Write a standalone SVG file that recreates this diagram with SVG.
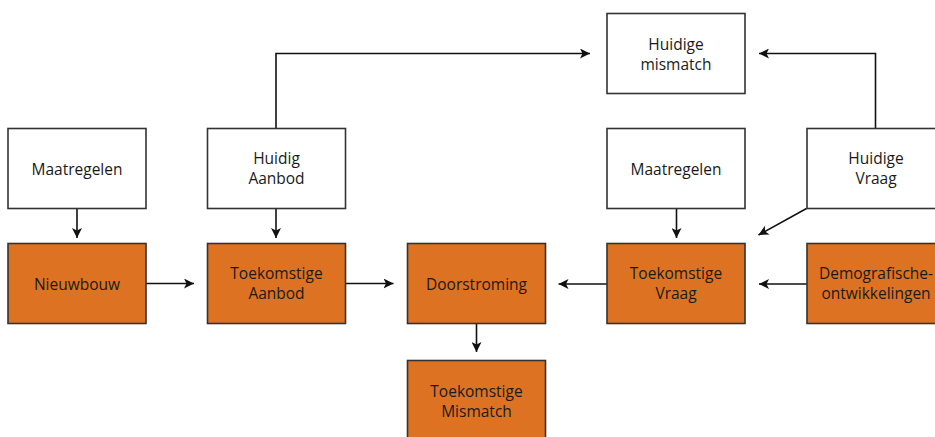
<svg xmlns="http://www.w3.org/2000/svg" width="935" height="437" viewBox="0 0 935 437">
<defs>
<style>
.box{stroke:#333;stroke-width:1.6}
.w{fill:#fff}
.o{fill:#dd7222}
text{font-family:"Open Sans","Noto Sans",sans-serif;font-size:15.5px;fill:#1a1a1a;text-anchor:middle}
.c{fill:none;stroke:#111;stroke-width:1.6}
</style>
<marker id="ah" viewBox="0 0 10 10" refX="10" refY="5" markerWidth="10" markerHeight="10" markerUnits="userSpaceOnUse" orient="auto">
<path d="M0,0 L10,5 L0,10 L2.5,5 Z" fill="#111"/>
</marker>
</defs>
<g id="connectors">
<path class="c" d="M77,208.5 V238" marker-end="url(#ah)"/>
<path class="c" d="M276,208.5 V238" marker-end="url(#ah)"/>
<path class="c" d="M676.5,208.5 V238" marker-end="url(#ah)"/>
<path class="c" d="M146,283.5 H194" marker-end="url(#ah)"/>
<path class="c" d="M345,283.5 H393.5" marker-end="url(#ah)"/>
<path class="c" d="M607,284 H558.5" marker-end="url(#ah)"/>
<path class="c" d="M807,284 H759" marker-end="url(#ah)"/>
<path class="c" d="M476.5,324 V352" marker-end="url(#ah)"/>
<path class="c" d="M276,128.5 V53.5 H590" marker-end="url(#ah)"/>
<path class="c" d="M875.5,128.5 V53.5 H759" marker-end="url(#ah)"/>
<path class="c" d="M806.5,208.5 L758.5,235" marker-end="url(#ah)"/>
</g>
<g id="maatregelen1"><rect class="box w" x="8" y="128.5" width="138" height="80"/><text x="77" y="175">Maatregelen</text></g>
<g id="huidig-aanbod"><rect class="box w" x="207.5" y="128.5" width="138" height="80"/><text x="276.5" y="164.3">Huidig</text><text x="276.5" y="184.3">Aanbod</text></g>
<g id="huidige-mismatch"><rect class="box w" x="607" y="13.5" width="138" height="80"/><text x="676" y="49.5">Huidige</text><text x="676" y="69.5">mismatch</text></g>
<g id="maatregelen2"><rect class="box w" x="607" y="128.5" width="138" height="80"/><text x="676" y="175">Maatregelen</text></g>
<g id="huidige-vraag"><rect class="box w" x="807" y="128.5" width="138" height="80"/><text x="876" y="164.3">Huidige</text><text x="876" y="184.3">Vraag</text></g>
<g id="nieuwbouw"><rect class="box o" x="8" y="243.5" width="138" height="80"/><text x="77" y="290">Nieuwbouw</text></g>
<g id="toekomstige-aanbod"><rect class="box o" x="207.5" y="243.5" width="138" height="80"/><text x="276.5" y="279.3">Toekomstige</text><text x="276.5" y="299.3">Aanbod</text></g>
<g id="doorstroming"><rect class="box o" x="407.5" y="243.5" width="138" height="80"/><text x="476.5" y="290">Doorstroming</text></g>
<g id="toekomstige-vraag"><rect class="box o" x="607" y="243.5" width="138" height="80"/><text x="676" y="279.3">Toekomstige</text><text x="676" y="299.3">Vraag</text></g>
<g id="demografische"><rect class="box o" x="807" y="243.5" width="138" height="80"/><text x="876" y="279.3">Demografische-</text><text x="876" y="299.3">ontwikkelingen</text></g>
<g id="toekomstige-mismatch"><rect class="box o" x="407.5" y="360.5" width="138" height="80"/><text x="476.5" y="396.5">Toekomstige</text><text x="476.5" y="416.5">Mismatch</text></g>
</svg>
